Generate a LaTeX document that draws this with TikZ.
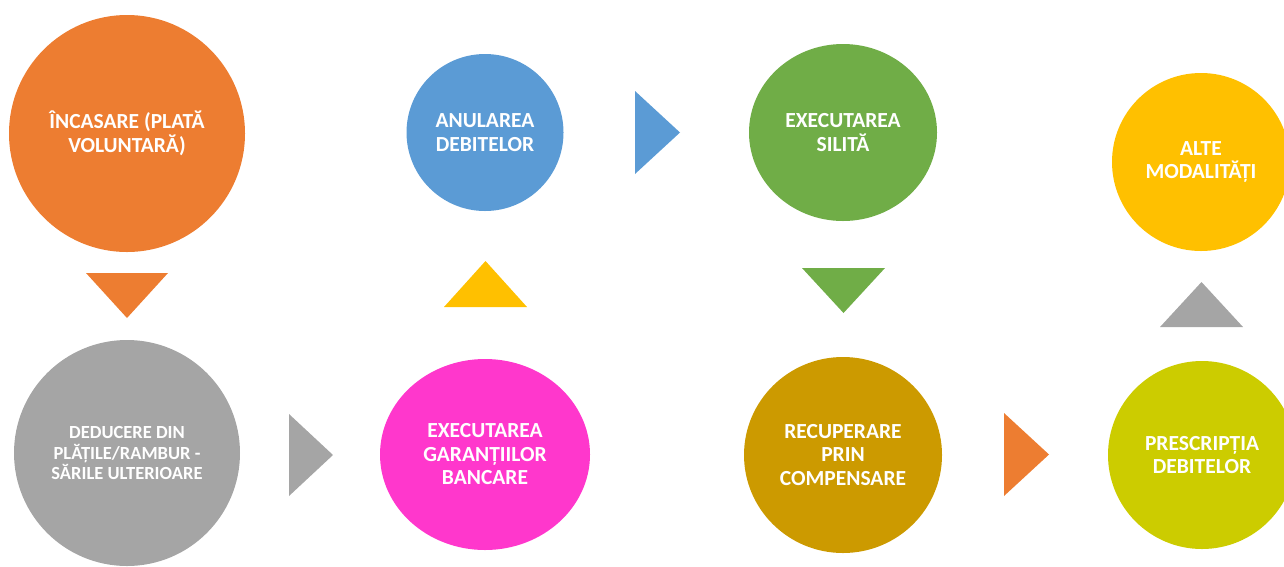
\documentclass[tikz,border=0pt]{standalone}
\usepackage{fontspec}
\setmainfont{Carlito}
\usetikzlibrary{shapes.geometric}
\definecolor{cOrange}{HTML}{ED7D31}
\definecolor{cGray}{HTML}{A5A5A5}
\definecolor{cBlue}{HTML}{5B9BD5}
\definecolor{cGreen}{HTML}{70AD47}
\definecolor{cYellow}{HTML}{FFC000}
\definecolor{cMagenta}{HTML}{FF37CC}
\definecolor{cGold}{HTML}{CC9A00}
\definecolor{cLime}{HTML}{CCCC00}
\tikzset{
  bubble/.style={ellipse, inner sep=0pt, text=white, align=center,
    font=\bfseries\fontsize{21.5}{23.5}\selectfont},
  pointer/.style={draw=none}
}
\begin{document}
\begin{tikzpicture}[x=1pt,y=-1pt]
\useasboundingbox (0,0) rectangle (1284,566);
\clip (0,0) rectangle (1284,566);
% circles
\node[bubble, fill=cOrange, minimum width=236pt, minimum height=237pt] (incasare) at (127,133.5) {ÎNCASARE (PLATĂ\\VOLUNTARĂ)};
\node[bubble, fill=cGray, minimum width=226pt, minimum height=226pt,
  font=\bfseries\fontsize{18.5}{20.5}\selectfont] (deducere) at (127,453) {DEDUCERE DIN\\PLĂȚILE/RAMBUR -\\SĂRILE ULTERIOARE};
\node[bubble, fill=cBlue, minimum width=157pt, minimum height=157pt] (anularea) at (485,132.5) {ANULAREA\\DEBITELOR};
\node[bubble, fill=cMagenta, minimum width=210pt, minimum height=191pt] (garantii) at (485,454.5) {EXECUTAREA\\GARANȚIILOR\\BANCARE};
\node[bubble, fill=cGreen, minimum width=188pt, minimum height=177pt] (silita) at (843,132.5) {EXECUTAREA\\SILITĂ};
\node[bubble, fill=cGold, minimum width=198pt, minimum height=196pt] (compensare) at (843,455) {RECUPERARE\\PRIN\\COMPENSARE};
\node[bubble, fill=cYellow, minimum width=178pt, minimum height=178pt] (alte) at (1201,162) {ALTE\\MODALITĂȚI};
\node[bubble, fill=cLime, minimum width=188pt, minimum height=188pt] (prescriptia) at (1202,455) {PRESCRIPȚIA\\DEBITELOR};
% triangles
\fill[cOrange] (86,273) -- (168,273) -- (127,318) -- cycle;
\fill[cGray] (289,414) -- (289,496) -- (333,455) -- cycle;
\fill[cYellow] (444,307) -- (527,307) -- (485.5,261) -- cycle;
\fill[cBlue] (635,91) -- (635,174) -- (680,132.5) -- cycle;
\fill[cGreen] (802,268) -- (885,268) -- (843.5,313) -- cycle;
\fill[cOrange] (1004,413) -- (1004,496) -- (1049,454.5) -- cycle;
\fill[cGray] (1160,327) -- (1243,327) -- (1201.5,282) -- cycle;
\end{tikzpicture}
\end{document}
